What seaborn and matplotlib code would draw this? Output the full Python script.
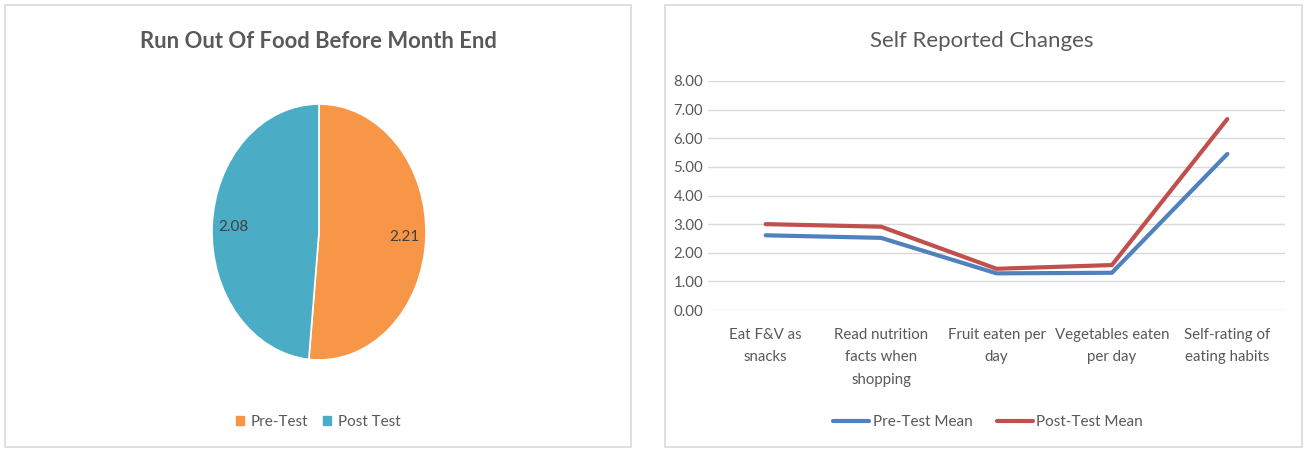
import matplotlib
matplotlib.use("Agg")
import matplotlib.pyplot as plt
from matplotlib.patches import Rectangle
from matplotlib.lines import Line2D
import seaborn as sns
import pandas as pd

# Pie: run out of food before month end
pie_labels = ["Pre-Test", "Post Test"]
pie_values = [2.21, 2.08]
pie_colors = ["#F79646", "#4BACC6"]

# Line: self reported changes
categories = [
    "Eat F&V as\nsnacks",
    "Read nutrition\nfacts when\nshopping",
    "Fruit eaten per\nday",
    "Vegetables eaten\nper day",
    "Self-rating of\neating habits",
]
pre_mean = [2.61, 2.52, 1.28, 1.30, 5.45]
post_mean = [3.00, 2.91, 1.44, 1.57, 6.67]
series_names = ["Pre-Test Mean", "Post-Test Mean"]
line_colors = ["#4F81BD", "#C0504D"]
y_ticks = [0, 1, 2, 3, 4, 5, 6, 7, 8]

sns.set_theme(style="white")
plt.rcParams["font.family"] = ["Lato", "DejaVu Sans"]
TXT = "#595959"
GRID = "#D9D9D9"

W, H = 1307, 450
fig = plt.figure(figsize=(W / 100, H / 100), dpi=100)
fig.patch.set_facecolor("white")

def fx(px):
    return px / W

def fy(py):
    return 1 - py / H

# panel frames
for x0, x1 in [(5, 631), (665, 1302)]:
    fig.patches.append(Rectangle((fx(x0), fy(447)), fx(x1 - x0), (447 - 5) / H,
                                 transform=fig.transFigure, fill=False,
                                 edgecolor=GRID, lw=1.2))

# ---- pie ----
ax1 = fig.add_axes([fx(212), fy(360), fx(214), 256 / H])
wedges, texts = ax1.pie(pie_values, colors=pie_colors, startangle=90, counterclock=False,
                        labels=[f"{v:.2f}" for v in pie_values], labeldistance=0.8,
                        wedgeprops=dict(edgecolor="white", linewidth=1.2),
                        textprops=dict(color="#404040", fontsize=11))
for t in texts:
    t.set_horizontalalignment("center")
ax1.set_aspect("auto")
ax1.set_xlim(-1, 1)
ax1.set_ylim(-1, 1)
ax1.axis("off")
fig.text(fx(318), fy(41), "Run Out Of Food Before Month End", ha="center", va="center",
         fontsize=15.8, fontweight="bold", color=TXT)
handles = [Rectangle((0, 0), 1, 1, color=c) for c in pie_colors]
fig.legend(handles, pie_labels, loc="center", bbox_to_anchor=(fx(318), fy(422)), ncol=2,
           frameon=False, fontsize=11, labelcolor=TXT, handlelength=0.55, handleheight=0.55,
           handletextpad=0.4, columnspacing=1.0)

# ---- line chart ----
ax2 = fig.add_axes([fx(708), fy(310), fx(1285 - 708), (310 - 81) / H])
df = pd.DataFrame({
    "category": categories * 2,
    "value": pre_mean + post_mean,
    "series": [series_names[0]] * len(categories) + [series_names[1]] * len(categories),
})
sns.lineplot(data=df, x="category", y="value", hue="series", palette=line_colors,
             sort=False, lw=3.0, ax=ax2, legend=False, zorder=3)
ax2.set_xlim(-0.5, len(categories) - 0.5)
ax2.set_ylim(0, 8)
ax2.set_yticks(y_ticks)
ax2.set_yticklabels([f"{t:.2f}" for t in y_ticks])
ax2.grid(axis="y", color=GRID, lw=1)
ax2.grid(axis="x", visible=False)
for s in ax2.spines.values():
    s.set_visible(False)
ax2.tick_params(axis="both", length=0, colors=TXT, labelsize=10.8)
ax2.tick_params(axis="x", pad=13)
for lab in ax2.get_xticklabels():
    lab.set_linespacing(1.75)
ax2.set_xlabel("")
ax2.set_ylabel("")
fig.text(fx(982), fy(41), "Self Reported Changes", ha="center", va="center",
         fontsize=16, color=TXT)
lhandles = [Line2D([0], [0], color=c, lw=3.0) for c in line_colors]
fig.legend(lhandles, series_names, loc="center", bbox_to_anchor=(fx(988), fy(422)), ncol=2,
           frameon=False, fontsize=11, labelcolor=TXT, handlelength=2.4,
           handletextpad=0.2, columnspacing=1.6)

fig.savefig("out.png", dpi=100, facecolor="white")
